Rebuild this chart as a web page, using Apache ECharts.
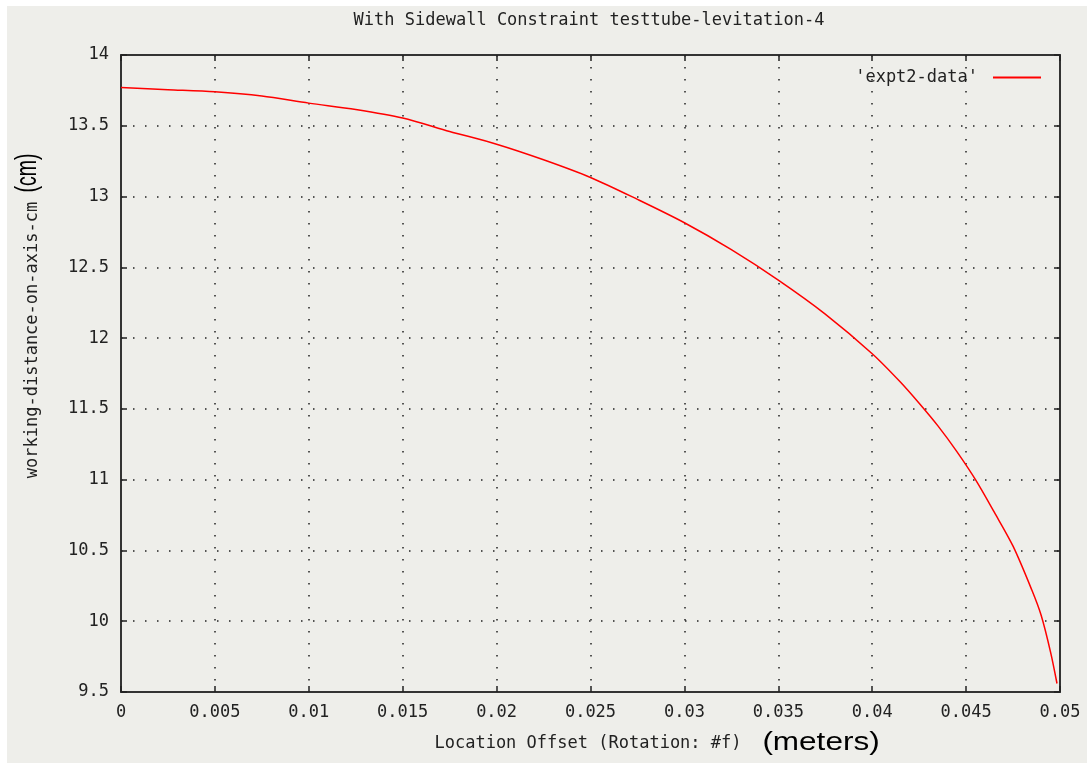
<!DOCTYPE html>
<html lang="en">
  <head>
    <meta charset="utf-8" />
    <script src="https://cdn.jsdelivr.net/npm/echarts@6/dist/echarts.min.js"></script>
    <title>With Sidewall Constraint testtube-levitation-4</title>
    <style>
      html, body { margin: 0; padding: 0; background: #ffffff; }
      #chart { position: absolute; left: 7px; top: 6px; width: 1080px; height: 757px; }
    </style>
  </head>
  <body>
    <div id="chart"></div>
    <script>
      // location offset (m) and working distance (cm)
      var offsets = [0, 0.0025, 0.005, 0.0075, 0.01, 0.0125, 0.015, 0.0175, 0.02, 0.0225,
        0.025, 0.0275, 0.03, 0.0325, 0.035, 0.0375, 0.04, 0.0415, 0.0425, 0.0435, 0.0445,
        0.0455, 0.0465, 0.0475, 0.0485, 0.049, 0.0495, 0.04984]
      var distances = [13.77, 13.755, 13.74, 13.71, 13.66, 13.615, 13.555, 13.46, 13.37, 13.26,
        13.135, 12.98, 12.815, 12.625, 12.41, 12.17, 11.89, 11.69, 11.54, 11.38, 11.2,
        11.0, 10.77, 10.53, 10.22, 10.04, 9.78, 9.56]
      var seriesName = "'expt2-data'"
      var titleText = 'With Sidewall Constraint testtube-levitation-4'
      var xLabel = 'Location Offset (Rotation: #f)'
      var yLabel = 'working-distance-on-axis-cm'

      var mono = 'DejaVu Sans Mono'
      var ink = '#222222'

      var points = offsets.map(function (x, i) { return [x, distances[i]] })

      var gridDots = { show: true, lineStyle: { color: ink, width: 1.5, type: [1.5, 10.5] } }
      var inTicks = { show: true, inside: true, length: 6, lineStyle: { color: ink, width: 1.5 } }
      var frame = { show: true, onZero: false, lineStyle: { color: '#333333', width: 2 } }

      var chart = echarts.init(document.getElementById('chart'))
      chart.setOption({
        backgroundColor: '#eeeeea',
        animation: false,
        grid: { left: 114, top: 49, right: 27, bottom: 71 },
        legend: {
          right: 41, top: 58, align: 'right',
          icon: 'rect', itemWidth: 48, itemHeight: 2,
          textStyle: { fontFamily: mono, fontSize: 17, color: ink, padding: [0, 10, 0, 0] },
          data: [seriesName]
        },
        xAxis: [
          {
            type: 'value', min: 0, max: 0.05, interval: 0.005,
            axisLine: frame, axisTick: inTicks, splitLine: gridDots,
            axisLabel: { fontFamily: mono, fontSize: 17, color: ink, margin: 12 }
          },
          {
            type: 'value', position: 'top', min: 0, max: 0.05, interval: 0.005,
            axisLine: frame, axisTick: inTicks, splitLine: { show: false }, axisLabel: { show: false }
          }
        ],
        yAxis: [
          {
            type: 'value', min: 9.5, max: 14, interval: 0.5,
            axisLine: frame, axisTick: inTicks, splitLine: gridDots,
            axisLabel: { fontFamily: mono, fontSize: 17, color: ink, margin: 12 }
          },
          {
            type: 'value', position: 'right', min: 9.5, max: 14, interval: 0.5,
            axisLine: frame, axisTick: inTicks, splitLine: { show: false }, axisLabel: { show: false }
          }
        ],
        graphic: [
          { type: 'text', x: 582, y: 15, style: { text: titleText, font: '17px ' + mono, fill: ink, align: 'center', verticalAlign: 'middle' } },
          { type: 'text', x: 581, y: 738, style: { text: xLabel, font: '17px ' + mono, fill: ink, align: 'center', verticalAlign: 'middle' } },
          { type: 'text', x: 814, y: 737, scaleX: 1.26, style: { text: '(meters)', font: '25px "Liberation Sans"', fill: '#000000', align: 'center', verticalAlign: 'middle' } },
          { type: 'text', x: 26, y: 334, rotation: Math.PI / 2, style: { text: yLabel, font: '17px ' + mono, fill: ink, align: 'center', verticalAlign: 'middle' } },
          { type: 'text', x: 21, y: 167, rotation: Math.PI / 2, scaleY: 1.55, style: { text: '(cm)', font: '19.5px "Liberation Sans"', fill: '#000000', align: 'center', verticalAlign: 'middle' } }
        ],
        series: [
          {
            name: seriesName, type: 'line', data: points,
            showSymbol: false, smooth: 0.3,
            lineStyle: { color: '#ff0000', width: 1.5 },
            itemStyle: { color: '#ff0000' }
          }
        ]
      })
    </script>
  </body>
</html>
